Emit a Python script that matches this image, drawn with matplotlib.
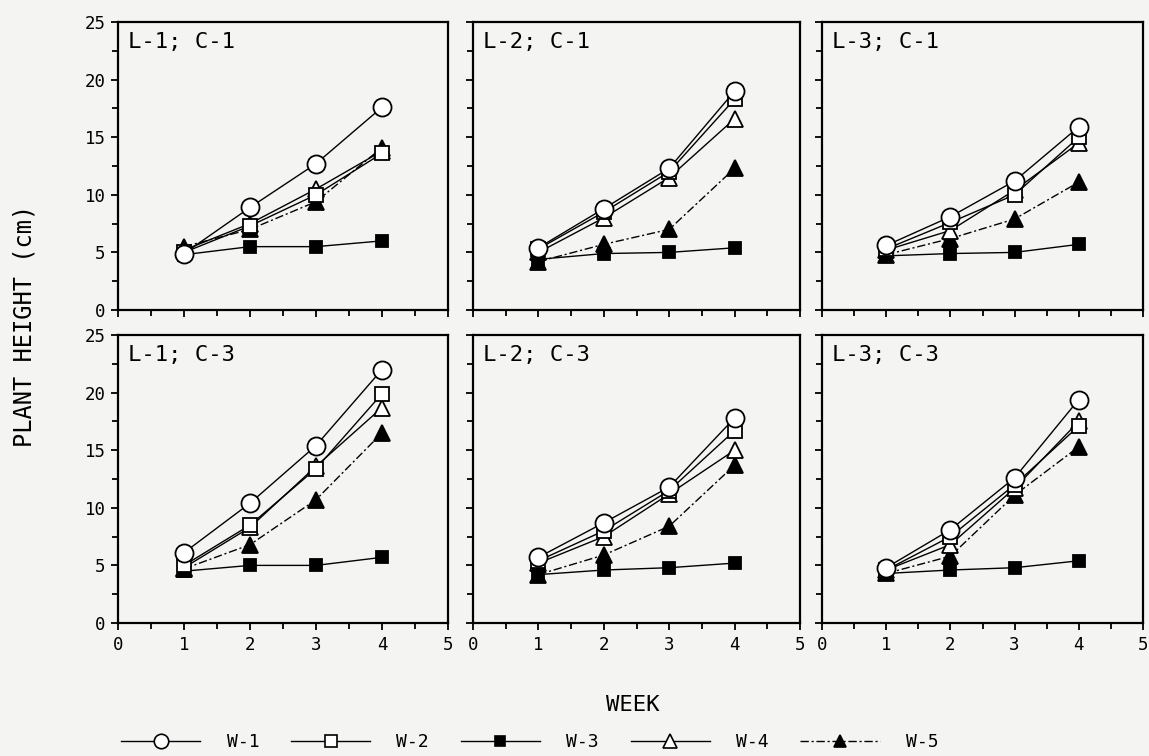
import matplotlib
matplotlib.use("Agg")
import matplotlib.pyplot as plt
from matplotlib.ticker import MultipleLocator
from matplotlib.lines import Line2D

weeks = [1, 2, 3, 4]
series_names = ["W-1", "W-2", "W-3", "W-4", "W-5"]
panel_titles = ["L-1; C-1", "L-2; C-1", "L-3; C-1",
                "L-1; C-3", "L-2; C-3", "L-3; C-3"]

# each panel: [W-1, W-2, W-3, W-4, W-5]
l1_c1 = [[4.9, 8.9, 12.7, 17.6],
         [5.0, 7.3, 10.0, 13.6],
         [4.8, 5.5, 5.5, 6.0],
         [5.2, 7.5, 10.5, 13.8],
         [5.5, 7.0, 9.4, 14.1]]
l2_c1 = [[5.4, 8.8, 12.3, 19.0],
         [5.3, 8.5, 12.0, 18.3],
         [4.4, 4.9, 5.0, 5.4],
         [5.0, 8.0, 11.5, 16.6],
         [4.2, 5.7, 7.0, 12.3]]
l3_c1 = [[5.6, 8.1, 11.2, 15.9],
         [5.3, 7.6, 10.0, 15.0],
         [4.7, 4.9, 5.0, 5.7],
         [5.2, 6.9, 10.4, 14.5],
         [4.8, 6.2, 7.9, 11.1]]
l1_c3 = [[6.1, 10.4, 15.4, 22.0],
         [5.0, 8.5, 13.4, 19.9],
         [4.5, 5.0, 5.0, 5.7],
         [4.8, 8.3, 13.6, 18.7],
         [4.7, 6.8, 10.7, 16.5]]
l2_c3 = [[5.7, 8.7, 11.8, 17.8],
         [5.4, 8.0, 11.5, 16.7],
         [4.2, 4.6, 4.8, 5.2],
         [5.2, 7.5, 11.2, 15.0],
         [4.2, 5.9, 8.4, 13.7]]
l3_c3 = [[4.8, 8.1, 12.6, 19.4],
         [4.6, 7.5, 12.0, 17.1],
         [4.3, 4.6, 4.8, 5.4],
         [4.6, 6.8, 11.7, 17.5],
         [4.3, 5.8, 11.1, 15.3]]
panels = [l1_c1, l2_c1, l3_c1, l1_c3, l2_c3, l3_c3]

bg = "#f4f4f2"
mono = "DejaVu Sans Mono"
plt.rcParams["font.family"] = mono

styles = [
    dict(marker="o", mfc="white", mec="black", ms=13, ls="-"),
    dict(marker="s", mfc="white", mec="black", ms=10, ls="-"),
    dict(marker="s", mfc="black", mec="black", ms=9, ls="-"),
    dict(marker="^", mfc="white", mec="black", ms=12, ls="-"),
    dict(marker="^", mfc="black", mec="black", ms=11, ls=(0, (6, 2, 1.5, 2))),
]
draw_order = [2, 4, 3, 1, 0]

fig = plt.figure(figsize=(11.49, 7.56), dpi=100, facecolor=bg)
W, H = 1149.0, 756.0
cols = [(118, 448), (473, 800), (822, 1143)]
rows = [(22, 310), (335, 623)]

for i, data in enumerate(panels):
    r, c = divmod(i, 3)
    x0, x1 = cols[c]
    y0, y1 = rows[r]
    ax = fig.add_axes([x0 / W, 1 - y1 / H, (x1 - x0) / W, (y1 - y0) / H])
    ax.set_facecolor(bg)
    for k in draw_order:
        st = styles[k]
        ax.plot(weeks, data[k], color="black", lw=1.0, ls=st["ls"],
                marker=st["marker"], mfc=st["mfc"], mec=st["mec"],
                ms=st["ms"], mew=1.3, zorder=3 + (5 - k))
    ax.set_xlim(0, 5)
    ax.set_ylim(0, 25)
    ax.xaxis.set_major_locator(MultipleLocator(1))
    ax.xaxis.set_minor_locator(MultipleLocator(0.5))
    ax.yaxis.set_major_locator(MultipleLocator(5))
    ax.yaxis.set_minor_locator(MultipleLocator(2.5))
    ax.tick_params(which="both", direction="out", width=1.3, length=5,
                   labelsize=12.5, pad=4)
    ax.tick_params(which="minor", length=4)
    for s in ax.spines.values():
        s.set_linewidth(1.6)
    if c != 0:
        ax.tick_params(labelleft=False)
    if r == 0:
        ax.tick_params(labelbottom=False)
    ax.text(0.03, 0.965, panel_titles[i], transform=ax.transAxes,
            ha="left", va="top", fontsize=16)

fig.text(25 / W, 1 - 326 / H, "PLANT HEIGHT (cm)", rotation=90,
         ha="center", va="center", fontsize=17)
fig.text(633 / W, 1 - 705 / H, "WEEK", ha="center", va="center", fontsize=16)

handles = []
for k in range(5):
    st = styles[k]
    handles.append(Line2D([], [], color="black", lw=1.0, ls=st["ls"],
                          marker=st["marker"], mfc=st["mfc"], mec=st["mec"],
                          ms=st["ms"] * 0.8, mew=1.2))
fig.legend(handles, series_names, loc="center left", ncol=5,
           bbox_to_anchor=(121 / W, 1 - 742 / H), frameon=False,
           fontsize=13, handlelength=4.4, columnspacing=1.75,
           handletextpad=1.45, borderaxespad=0, borderpad=0)

fig.savefig("out.png", dpi=100, facecolor=bg)
